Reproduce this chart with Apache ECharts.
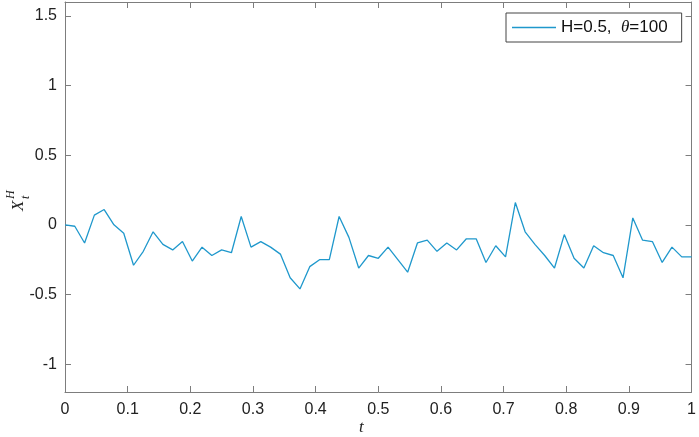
<!DOCTYPE html>
<html>
<head>
<meta charset="utf-8">
<title>X_t^H</title>
<script src="https://cdn.jsdelivr.net/npm/echarts@6/dist/echarts.min.js"></script>
<style>
    body { margin: 0; background: #fff; }
    #main { width: 699px; height: 437px; }
</style>
</head>
<body>
<div id="main"></div>
<script>
// 采样值 X_t^H, t = 0, 1/64, ..., 1
var xValues = [
    0.00, -0.01, -0.13, 0.07, 0.11, 0.00, -0.06, -0.29, -0.19, -0.05,
    -0.14, -0.18, -0.12, -0.26, -0.16, -0.22, -0.18, -0.20, 0.06, -0.16,
    -0.12, -0.16, -0.21, -0.38, -0.46, -0.30, -0.25, -0.25, 0.06, -0.09,
    -0.31, -0.22, -0.24, -0.16, -0.25, -0.34, -0.13, -0.11, -0.19, -0.13,
    -0.18, -0.10, -0.10, -0.27, -0.15, -0.23, 0.16, -0.05, -0.14, -0.22,
    -0.31, -0.07, -0.24, -0.31, -0.15, -0.20, -0.22, -0.38, 0.05, -0.11,
    -0.12, -0.27, -0.16, -0.23, -0.23
];
var step = 1 / 64;
var xTicks = ['0', '0.1', '0.2', '0.3', '0.4', '0.5', '0.6', '0.7', '0.8', '0.9', '1'];
var yTicks = ['-1', '-0.5', '0', '0.5', '1', '1.5'];
var seriesName = 'H=0.5,  θ=100';

var lineColor = '#1f98cc';
var axisColor = '#7d7d7d';
var labelFont = '"Liberation Sans", Arial, sans-serif';

var points = [];
for (var i = 0; i < xValues.length; i++) {
    points.push([i * step, xValues[i]]);
}

function tickLabel(list, v) {
    var s = String(Math.round(v * 10) / 10);
    return list.indexOf(s) >= 0 ? s : '';
}

var myChart = echarts.init(document.getElementById('main'));

// 坐标轴框: 上/右两条轴只画刻度
function boxAxis(pos, isX, show) {
    var ax = {
        type: 'value',
        position: pos,
        min: isX ? 0 : -1.2,
        max: isX ? 1 : 1.6,
        interval: isX ? 0.1 : 0.5,
        axisLine: { show: true, onZero: false, lineStyle: { color: axisColor, width: 1 } },
        axisTick: { show: true, inside: true, length: 6, lineStyle: { color: axisColor } },
        splitLine: { show: false },
        axisLabel: {
            show: show,
            color: '#222',
            fontFamily: labelFont,
            fontSize: 16,
            margin: isX ? 10 : 8,
            showMinLabel: true,
            showMaxLabel: true,
            formatter: function (v) { return tickLabel(isX ? xTicks : yTicks, v); }
        }
    };
    if (!isX) {
        // y 轴刻度从 -1 开始, 用 customValues 保持 0.5 间隔
        ax.axisTick.customValues = [-1, -0.5, 0, 0.5, 1, 1.5];
        ax.axisLabel.customValues = [-1, -0.5, 0, 0.5, 1, 1.5];
    }
    return ax;
}

var option = {
    animation: false,
    backgroundColor: '#fff',
    grid: { left: 65, right: 4, top: 2, bottom: 45 },
    xAxis: [boxAxis('bottom', true, true), boxAxis('top', true, false)],
    yAxis: [boxAxis('left', false, true), boxAxis('right', false, false)],
    legend: {
        left: 506,
        top: 13,
        icon: 'rect',
        itemWidth: 44,
        itemHeight: 1.3,
        itemGap: 0,
        padding: [6, 14, 6, 6],
        borderColor: '#444',
        borderWidth: 1,
        borderRadius: 0,
        backgroundColor: '#fff',
        data: [seriesName],
        formatter: function () {
            return '{n|H=0.5,  }{th|θ}{n|=100}';
        },
        textStyle: {
            rich: {
                n: { fontFamily: labelFont, fontSize: 17, color: '#111', height: 17 },
                th: { fontFamily: '"Liberation Serif", serif', fontStyle: 'italic', fontSize: 17, color: '#111', height: 17 }
            }
        }
    },
    series: [{
        name: seriesName,
        type: 'line',
        xAxisIndex: 0,
        yAxisIndex: 0,
        data: points,
        symbol: 'none',
        lineStyle: { color: lineColor, width: 1.3 },
        itemStyle: { color: lineColor }
    }],
    graphic: [
        {
            // x 轴标题 t
            type: 'text',
            left: 359,
            top: 419,
            style: { text: 't', font: 'italic 17px "Liberation Serif", serif', fill: '#222' }
        },
        {
            // y 轴标题 X_t^H, 旋转 90 度
            type: 'group',
            x: 22,
            y: 211,
            rotation: Math.PI / 2,
            children: [
                { type: 'text', x: 0, y: -12, style: { text: 'X', font: 'italic 17px "Liberation Serif", serif', fill: '#222' } },
                { type: 'text', x: 12, y: -2, style: { text: 't', font: 'italic 12px "Liberation Serif", serif', fill: '#222' } },
                { type: 'text', x: 12, y: -17, style: { text: 'H', font: 'italic 12px "Liberation Serif", serif', fill: '#222' } }
            ]
        }
    ]
};

myChart.setOption(option);
</script>
</body>
</html>
